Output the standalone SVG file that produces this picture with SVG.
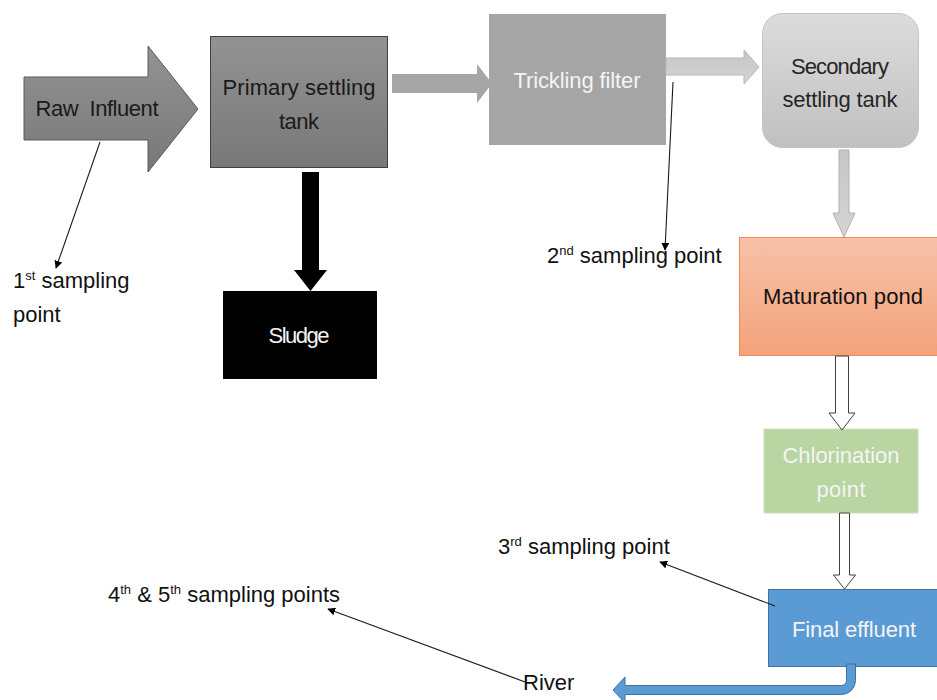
<svg xmlns="http://www.w3.org/2000/svg" width="937" height="700" viewBox="0 0 937 700">
<defs>
<linearGradient id="gDark" x1="0" y1="0" x2="0" y2="1"><stop offset="0" stop-color="#939393"/><stop offset="1" stop-color="#787878"/></linearGradient>
<linearGradient id="gLight" x1="0" y1="0" x2="0" y2="1"><stop offset="0" stop-color="#dcdcdc"/><stop offset="1" stop-color="#c0c0c0"/></linearGradient>
<linearGradient id="gArrowL" x1="0" y1="0" x2="0" y2="1"><stop offset="0" stop-color="#c6c6c6"/><stop offset="1" stop-color="#d4d4d4"/></linearGradient>
<linearGradient id="gOrange" x1="0" y1="0" x2="0" y2="1"><stop offset="0" stop-color="#f7c2a8"/><stop offset="1" stop-color="#f4a27a"/></linearGradient>
<marker id="ah" viewBox="0 0 10 10" refX="9" refY="5" markerWidth="8" markerHeight="8" markerUnits="userSpaceOnUse" orient="auto"><path d="M0,0 L10,5 L0,10 z" fill="#000"/></marker>
</defs>
<style>
text{font-family:"Liberation Sans",Arial,sans-serif;}
.lbl{font-size:22px;text-anchor:middle;}
.dark{fill:#1a1a1a;}
.white{fill:#f4f4f4;}
.note{font-size:22px;fill:#111;}
.sup{font-size:13px;}
.conn{stroke:#1a1a1a;stroke-width:1.1;fill:none;marker-end:url(#ah);}
.hollow{fill:#fff;stroke:#404040;stroke-width:1;}
</style>
<rect width="937" height="700" fill="#fff"/>

<g id="raw-influent">
<polygon points="24,77 148,77 148,46 198,109 148,172 148,140 24,140" fill="url(#gDark)" stroke="#5a5a5a" stroke-width="1"/>
<text class="lbl dark" x="97" y="116" style="white-space:pre" textLength="123">Raw  Influent</text>
</g>

<g id="primary-settling-tank">
<rect x="210.5" y="36.5" width="177" height="131" fill="url(#gDark)" stroke="#404040" stroke-width="1"/>
<text class="lbl dark" x="299" y="95" textLength="153">Primary settling</text>
<text class="lbl dark" x="299" y="129" textLength="40">tank</text>
</g>

<g id="trickling-filter">
<rect x="489" y="14" width="177" height="131" fill="#a5a5a5"/>
<text class="lbl white" x="577" y="88" textLength="127">Trickling filter</text>
</g>

<g id="secondary-settling-tank">
<rect x="762.5" y="13.5" width="156" height="134" rx="20" fill="url(#gLight)" stroke="#c4c4c4" stroke-width="1"/>
<text class="lbl" fill="#262626" x="840" y="74" textLength="98">Secondary</text>
<text class="lbl" fill="#262626" x="840" y="107" textLength="115">settling tank</text>
</g>

<g id="sludge">
<rect x="223" y="291" width="154" height="88" fill="#000"/>
<text class="lbl white" x="299" y="343" textLength="61">Sludge</text>
</g>

<g id="maturation-pond">
<rect x="739.5" y="237.5" width="200" height="118" fill="url(#gOrange)" stroke="#ee8a55" stroke-width="1"/>
<text class="lbl" fill="#111" x="843" y="304" textLength="160">Maturation pond</text>
</g>

<g id="chlorination-point">
<rect x="764" y="429" width="154" height="84" fill="#b8d5a2" stroke="#c9e0b9" stroke-width="1"/>
<text class="lbl white" x="841" y="463" textLength="117">Chlorination</text>
<text class="lbl white" x="841" y="497" textLength="49">point</text>
</g>

<g id="final-effluent">
<rect x="768.5" y="589.5" width="172" height="77" fill="#5b9bd5" stroke="#41719c" stroke-width="1"/>
<text class="lbl white" x="854" y="637" textLength="124">Final effluent</text>
</g>

<g id="labels">
<text class="note" x="13" y="288">1<tspan class="sup" dy="-8">st</tspan><tspan dy="8"> sampling</tspan></text>
<text class="note" x="13" y="322">point</text>
<text class="note" x="547" y="263">2<tspan class="sup" dy="-8">nd</tspan><tspan dy="8"> sampling point</tspan></text>
<text class="note" x="498" y="554">3<tspan class="sup" dy="-8">rd</tspan><tspan dy="8"> sampling point</tspan></text>
<text class="note" x="108" y="602">4<tspan class="sup" dy="-8">th</tspan><tspan dy="8"> &amp; 5</tspan><tspan class="sup" dy="-8">th</tspan><tspan dy="8"> sampling points</tspan></text>
<text class="note" x="523" y="690">River</text>
</g>

<g id="connectors">
<polygon points="392,74 477,74 477,64 492,83.5 477,103 477,93 392,93" fill="#a6a6a6"/>
<polygon points="666,58 744,58 744,50 759,67 744,84 744,75 666,75" fill="url(#gArrowL)" stroke="#b8b8b8" stroke-width="1"/>
<polygon points="839,150 849,150 849,213 855,213 844,237 833,213 839,213" fill="url(#gArrowL)" stroke="#b0b0b0" stroke-width="1"/>
<polygon points="302,172 319,172 319,270 327,270 310.5,291 294,270 302,270" fill="#000"/>
<polygon class="hollow" points="835.5,356 848.5,356 848.5,413 855,413 842,430 829,413 835.5,413"/>
<polygon class="hollow" points="839.5,513 849.5,513 849.5,575 855.5,575 844.5,589 833.5,575 839.5,575"/>
<path d="M846.5,664 L855.5,664 L855.5,680.5 A14,14 0 0 1 841.5,694.5 L625,694.5 L625,703 L613,690 L625,677 L625,685.5 L841.5,685.5 A5,5 0 0 0 846.5,680.5 Z" fill="#5b9bd5" stroke="#41719c" stroke-width="1"/>
<line class="conn" x1="100" y1="142" x2="56" y2="268"/>
<line class="conn" x1="673" y1="82" x2="665" y2="250"/>
<line class="conn" x1="775" y1="606" x2="660" y2="562"/>
<line class="conn" x1="525" y1="682" x2="328" y2="609"/>
</g>
</svg>
